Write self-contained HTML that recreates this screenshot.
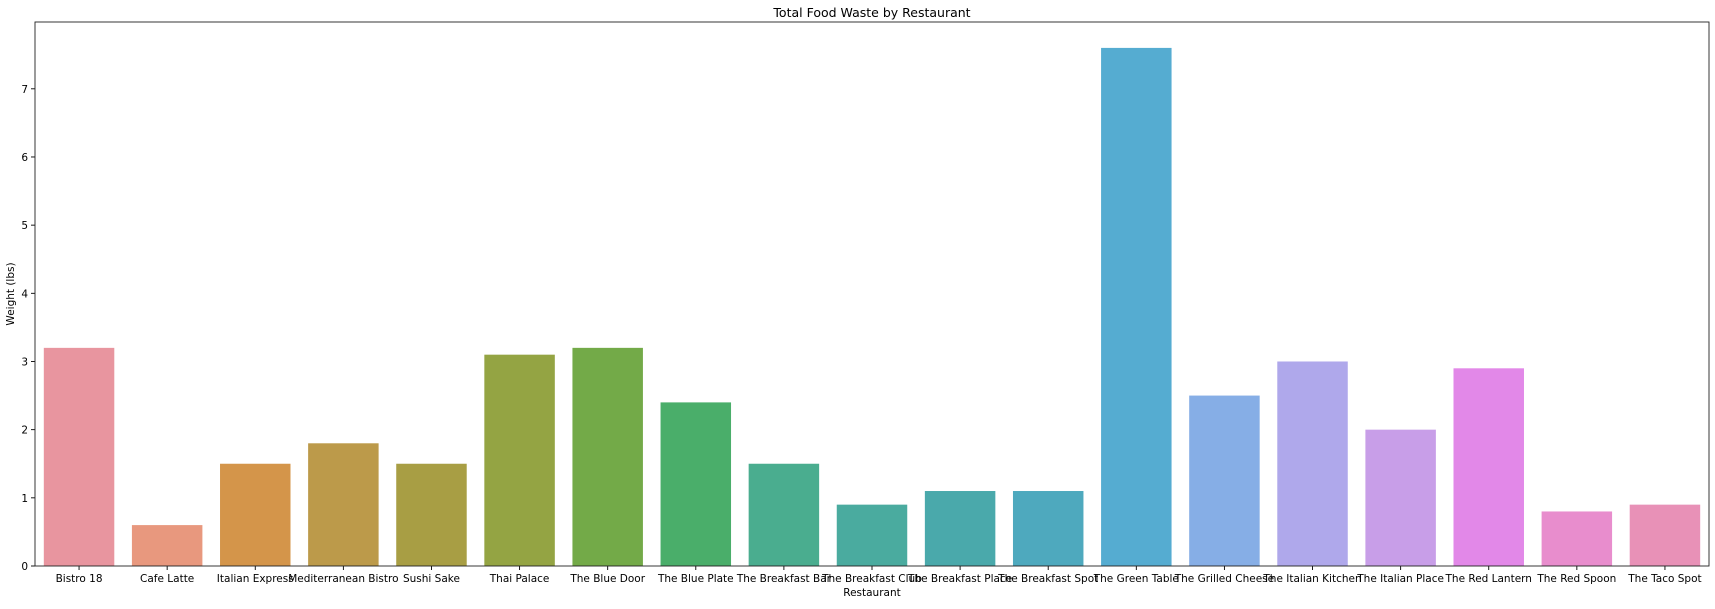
<!DOCTYPE html>
<html><head><meta charset="utf-8"><style>
body{margin:0;background:#fff;}
svg text{font-family:"DejaVu Sans","Liberation Sans",sans-serif;fill:#000;}
</style></head><body>
<svg id="chart" width="1715" height="604" xmlns="http://www.w3.org/2000/svg">
<g id="bars"></g>
<g id="axes"></g>
</svg>
<script>
const categories=["Bistro 18","Cafe Latte","Italian Express","Mediterranean Bistro","Sushi Sake","Thai Palace","The Blue Door","The Blue Plate","The Breakfast Bar","The Breakfast Club","The Breakfast Place","The Breakfast Spot","The Green Table","The Grilled Cheese","The Italian Kitchen","The Italian Place","The Red Lantern","The Red Spoon","The Taco Spot"];
const values=[3.2,0.6,1.5,1.8,1.5,3.1,3.2,2.4,1.5,0.9,1.1,1.1,7.6,2.5,3.0,2.0,2.9,0.8,0.9];
const colors=["#e8959f","#e8987e","#d4954a","#bc9a4a","#a89e44","#94a443","#73aa48","#4aae6a","#4aad8f","#4aab9f","#4aa9ab","#4ea9be","#55acd1","#86aee6","#afa8eb","#c89ee8","#e288e8","#e88dcd","#e891b7"];
const yTicks=[0,1,2,3,4,5,6,7];
const NS="http://www.w3.org/2000/svg";
const L=35,R=1709,T=22,B=566,yMax=7.98;
const yScale=v=>B-(v/yMax)*(B-T);
const step=(R-L)/categories.length;
const xScale=i=>L+step*i;
const bars=document.getElementById('bars'),axes=document.getElementById('axes');
function mk(tag,attrs,parent,text){const e=document.createElementNS(NS,tag);for(const k in attrs)e.setAttribute(k,attrs[k]);if(text!==undefined)e.textContent=text;parent.appendChild(e);return e;}
categories.forEach((c,i)=>{
  const x=xScale(i)+step*0.1,w=step*0.8,y=yScale(values[i]);
  const r=mk('rect',{x:x,y:y,width:w,height:B-y,fill:colors[i]},bars);
  
  
  const cx=xScale(i)+step/2;
  mk('line',{x1:cx,x2:cx,y1:B,y2:B+4,stroke:'#000','stroke-width':0.9},axes);
  const t=mk('text',{x:cx,y:B+16,'text-anchor':'middle','font-size':10.5},axes,c);
  
  
});
yTicks.forEach(v=>{
  const y=yScale(v);
  mk('line',{x1:L-4,x2:L,y1:y,y2:y,stroke:'#000','stroke-width':0.9},axes);
  const t=mk('text',{x:L-7,y:y+4,'text-anchor':'end','font-size':10.5},axes,String(v));
  
  
});
const frame=mk('rect',{x:L,y:T,width:R-L,height:B-T,fill:'none',stroke:'#222','stroke-width':0.9},axes);


const title=mk('text',{x:(L+R)/2,y:17,'text-anchor':'middle','font-size':12.5},axes,'Total Food Waste by Restaurant');


const xt=mk('text',{x:(L+R)/2,y:596,'text-anchor':'middle','font-size':10.5},axes,'Restaurant');


const yt=mk('text',{x:14,y:(T+B)/2,'text-anchor':'middle','font-size':10.5,transform:'rotate(-90 14 '+((T+B)/2)+')'},axes,'Weight (lbs)');


</script>
</body></html>
